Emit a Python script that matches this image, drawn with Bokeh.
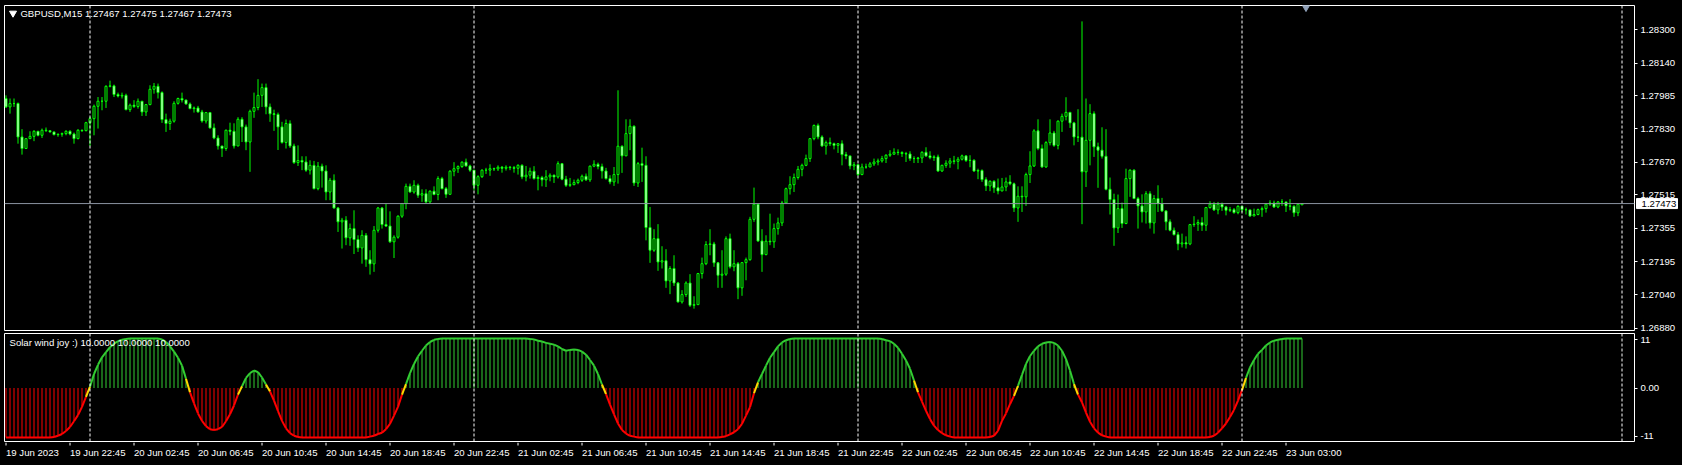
import numpy as np
from bokeh.plotting import figure
from bokeh.layouts import column
from bokeh.models import (Label, Span, Range1d, FixedTicker,
                          NumeralTickFormatter, GlobalInlineStyleSheet)
from bokeh.core.properties import value
from bokeh.embed import file_html
from bokeh.resources import INLINE

# ---------------- data (prices in points, 1 point = 0.00001) ----------------
symbol = "GBPUSD,M15"
indicator_name = "Solar wind joy :)"
indicator_params = ["10.0000", "10.0000", "10.0000"]

opens = [
    127973, 127933, 127949, 127949, 127790, 127735, 127782, 127793, 127817, 127798,
    127822, 127820, 127814, 127801, 127803, 127806, 127817, 127804, 127782, 127822,
    127820, 127858, 127877, 127936, 127960, 127960, 128031, 128033, 127992, 127985,
    127988, 127920, 127941, 127935, 127960, 127909, 127944, 128017, 128031, 128001,
    127873, 127854, 127865, 127950, 127973, 127966, 127947, 127925, 127928, 127909,
    127866, 127906, 127833, 127785, 127747, 127735, 127822, 127817, 127747, 127874,
    127838, 127766, 127912, 127930, 127988, 128025, 127933, 127900, 127897, 127838,
    127764, 127854, 127747, 127668, 127678, 127671, 127632, 127655, 127544, 127651,
    127628, 127528, 127584, 127452, 127386, 127394, 127310, 127354, 127302, 127262,
    127322, 127206, 127186, 127346, 127452, 127373, 127366, 127291, 127313, 127413,
    127473, 127555, 127528, 127560, 127513, 127520, 127481, 127532, 127516, 127592,
    127544, 127517, 127627, 127639, 127649, 127670, 127652, 127632, 127560, 127601,
    127632, 127632, 127639, 127638, 127646, 127641, 127646, 127644, 127641, 127655,
    127600, 127608, 127627, 127592, 127597, 127586, 127600, 127608, 127600, 127663,
    127589, 127560, 127563, 127573, 127584, 127603, 127586, 127651, 127660, 127649,
    127628, 127592, 127576, 127611, 127746, 127700, 127806, 127841, 127571, 127663,
    127655, 127359, 127251, 127306, 127195, 127201, 127105, 127164, 127095, 127005,
    127040, 127095, 126989, 126992, 127140, 127187, 127278, 127281, 127191, 127132,
    127137, 127306, 127172, 127187, 127072, 127192, 127206, 127398, 127470, 127295,
    127230, 127294, 127291, 127354, 127381, 127476, 127544, 127563, 127597, 127636,
    127655, 127687, 127782, 127845, 127790, 127747, 127763, 127758, 127750, 127758,
    127706, 127700, 127652, 127658, 127611, 127647, 127647, 127662, 127671, 127676,
    127687, 127703, 127708, 127717, 127716, 127711, 127709, 127687, 127687, 127690,
    127717, 127700, 127692, 127695, 127628, 127655, 127665, 127676, 127674, 127684,
    127700, 127678, 127679, 127628, 127630, 127587, 127557, 127579, 127548, 127533,
    127552, 127576, 127567, 127452, 127508, 127505, 127611, 127652, 127819, 127735,
    127647, 127763, 127809, 127750, 127865, 127888, 127907, 127857, 127790, 127789,
    127624, 127774, 127901, 127743, 127727, 127698, 127541, 127492, 127357, 127449,
    127378, 127592, 127632, 127497, 127462, 127433, 127520, 127381, 127497, 127473,
    127438, 127386, 127346, 127325, 127281, 127286, 127281, 127373, 127375, 127383,
    127370, 127454, 127470, 127443, 127470, 127457, 127441, 127444, 127430, 127460,
    127444, 127443, 127414, 127421, 127444, 127449, 127470, 127476, 127457, 127481,
    127481, 127462, 127460, 127429, 127467,
]
highs = [
    127988, 127973, 127973, 127954, 127827, 127782, 127817, 127822, 127817, 127830,
    127835, 127819, 127814, 127806, 127811, 127822, 127822, 127811, 127827, 127825,
    127862, 127885, 127944, 127980, 127980, 128036, 128058, 128039, 128001, 128001,
    127996, 127949, 127965, 127973, 127957, 127947, 128036, 128047, 128044, 128007,
    127901, 127877, 127960, 127977, 128001, 127966, 127954, 127935, 127938, 127919,
    127909, 127906, 127854, 127798, 127747, 127825, 127858, 127855, 127884, 127884,
    127849, 127920, 128001, 128065, 128044, 128044, 127949, 127920, 127906, 127862,
    127873, 127869, 127758, 127750, 127698, 127698, 127679, 127676, 127671, 127663,
    127655, 127595, 127612, 127457, 127405, 127413, 127378, 127441, 127322, 127346,
    127333, 127251, 127366, 127457, 127457, 127471, 127436, 127322, 127417, 127476,
    127568, 127568, 127584, 127568, 127541, 127541, 127536, 127555, 127603, 127600,
    127552, 127632, 127670, 127655, 127674, 127687, 127658, 127624, 127608, 127636,
    127643, 127660, 127644, 127655, 127652, 127655, 127652, 127652, 127660, 127660,
    127652, 127644, 127651, 127608, 127605, 127632, 127617, 127611, 127674, 127666,
    127605, 127595, 127587, 127592, 127611, 127616, 127654, 127679, 127668, 127663,
    127643, 127608, 127647, 128012, 127750, 127874, 127874, 127845, 127671, 127739,
    127698, 127457, 127351, 127375, 127270, 127256, 127175, 127227, 127100, 127061,
    127103, 127137, 127032, 127143, 127216, 127294, 127351, 127291, 127195, 127251,
    127317, 127330, 127251, 127195, 127195, 127216, 127410, 127549, 127473, 127351,
    127322, 127425, 127378, 127406, 127486, 127549, 127603, 127616, 127652, 127663,
    127706, 127785, 127849, 127854, 127798, 127773, 127787, 127763, 127761, 127774,
    127719, 127695, 127671, 127643, 127663, 127663, 127671, 127687, 127687, 127700,
    127708, 127727, 127736, 127731, 127722, 127719, 127722, 127698, 127695, 127722,
    127741, 127722, 127703, 127706, 127658, 127679, 127690, 127700, 127695, 127706,
    127703, 127703, 127684, 127639, 127636, 127598, 127584, 127584, 127592, 127595,
    127597, 127608, 127573, 127555, 127555, 127620, 127722, 127827, 127874, 127754,
    127770, 127874, 127819, 127869, 127901, 127979, 127909, 127862, 127922, 128340,
    127973, 127946, 127912, 127763, 127836, 127827, 127597, 127520, 127516, 127478,
    127639, 127636, 127636, 127505, 127517, 127532, 127532, 127513, 127560, 127500,
    127441, 127398, 127359, 127338, 127330, 127317, 127376, 127413, 127397, 127408,
    127457, 127484, 127481, 127481, 127478, 127462, 127457, 127452, 127465, 127452,
    127454, 127441, 127449, 127449, 127459, 127473, 127489, 127487, 127484, 127494,
    127473, 127494, 127465, 127473, 127475,
]
lows = [
    127928, 127901, 127933, 127758, 127706, 127735, 127782, 127770, 127793, 127785,
    127814, 127811, 127798, 127791, 127791, 127798, 127798, 127758, 127779, 127814,
    127817, 127747, 127798, 127830, 127917, 127928, 128026, 127980, 127978, 127973,
    127917, 127909, 127928, 127925, 127890, 127890, 127941, 127996, 127973, 127857,
    127814, 127823, 127858, 127944, 127954, 127944, 127922, 127906, 127906, 127858,
    127854, 127830, 127779, 127730, 127695, 127724, 127798, 127735, 127747, 127766,
    127727, 127624, 127881, 127917, 127933, 127898, 127862, 127819, 127728, 127758,
    127735, 127738, 127662, 127652, 127632, 127624, 127611, 127541, 127536, 127549,
    127489, 127489, 127449, 127338, 127259, 127275, 127272, 127233, 127243, 127187,
    127172, 127135, 127148, 127335, 127354, 127362, 127286, 127214, 127306, 127405,
    127446, 127525, 127520, 127500, 127481, 127473, 127473, 127513, 127489, 127541,
    127500, 127517, 127603, 127619, 127643, 127649, 127624, 127536, 127517, 127595,
    127614, 127605, 127628, 127628, 127620, 127630, 127632, 127620, 127611, 127589,
    127579, 127592, 127587, 127536, 127555, 127552, 127579, 127571, 127592, 127584,
    127552, 127552, 127560, 127565, 127576, 127581, 127576, 127646, 127636, 127592,
    127587, 127565, 127557, 127568, 127619, 127700, 127727, 127557, 127552, 127576,
    127298, 127191, 127243, 127153, 127164, 127072, 127042, 127081, 127002, 126997,
    127029, 126981, 126973, 126994, 127116, 127180, 127227, 127172, 127072, 127072,
    127129, 127164, 127151, 127018, 127034, 127108, 127201, 127386, 127291, 127148,
    127227, 127275, 127262, 127325, 127366, 127473, 127516, 127528, 127587, 127603,
    127651, 127671, 127774, 127779, 127744, 127706, 127747, 127731, 127714, 127655,
    127684, 127636, 127632, 127605, 127608, 127639, 127647, 127652, 127655, 127668,
    127666, 127695, 127706, 127703, 127695, 127671, 127676, 127666, 127666, 127666,
    127695, 127684, 127676, 127624, 127624, 127643, 127643, 127660, 127636, 127678,
    127671, 127646, 127624, 127589, 127576, 127533, 127532, 127524, 127517, 127532,
    127532, 127560, 127433, 127386, 127433, 127462, 127571, 127647, 127727, 127644,
    127644, 127750, 127743, 127731, 127814, 127869, 127833, 127750, 127766, 127375,
    127552, 127655, 127695, 127548, 127687, 127536, 127421, 127272, 127333, 127357,
    127375, 127505, 127494, 127354, 127383, 127378, 127354, 127330, 127433, 127433,
    127346, 127341, 127322, 127251, 127264, 127259, 127275, 127362, 127343, 127343,
    127343, 127449, 127438, 127422, 127438, 127417, 127433, 127425, 127422, 127433,
    127421, 127410, 127414, 127417, 127410, 127430, 127462, 127452, 127451, 127462,
    127433, 127441, 127410, 127413, 127467,
]
closes = [
    127933, 127949, 127949, 127790, 127735, 127782, 127793, 127817, 127798, 127822,
    127820, 127814, 127801, 127803, 127806, 127817, 127804, 127782, 127822, 127820,
    127858, 127877, 127936, 127960, 127960, 128031, 128033, 127992, 127985, 127988,
    127920, 127941, 127935, 127960, 127909, 127944, 128017, 128031, 128001, 127873,
    127854, 127865, 127950, 127973, 127966, 127947, 127925, 127928, 127909, 127866,
    127906, 127833, 127785, 127747, 127735, 127822, 127817, 127747, 127874, 127838,
    127766, 127912, 127930, 127988, 128025, 127933, 127900, 127897, 127838, 127764,
    127854, 127747, 127668, 127678, 127671, 127632, 127655, 127544, 127651, 127628,
    127528, 127584, 127452, 127386, 127394, 127310, 127354, 127302, 127262, 127322,
    127206, 127186, 127346, 127452, 127373, 127366, 127291, 127313, 127413, 127473,
    127555, 127528, 127560, 127513, 127520, 127481, 127532, 127516, 127592, 127544,
    127517, 127627, 127639, 127649, 127670, 127652, 127632, 127560, 127601, 127632,
    127632, 127639, 127638, 127646, 127641, 127646, 127644, 127641, 127655, 127600,
    127608, 127627, 127592, 127597, 127586, 127600, 127608, 127600, 127663, 127589,
    127560, 127563, 127573, 127584, 127603, 127586, 127651, 127660, 127649, 127628,
    127592, 127576, 127611, 127746, 127700, 127806, 127841, 127571, 127663, 127655,
    127359, 127251, 127306, 127195, 127201, 127105, 127164, 127095, 127005, 127040,
    127095, 126989, 126992, 127140, 127187, 127278, 127281, 127191, 127132, 127137,
    127306, 127172, 127187, 127072, 127192, 127206, 127398, 127470, 127295, 127230,
    127294, 127291, 127354, 127381, 127476, 127544, 127563, 127597, 127636, 127655,
    127687, 127782, 127845, 127790, 127747, 127763, 127758, 127750, 127758, 127706,
    127700, 127652, 127658, 127611, 127647, 127647, 127662, 127671, 127676, 127687,
    127703, 127708, 127717, 127716, 127711, 127709, 127687, 127687, 127690, 127717,
    127700, 127692, 127695, 127628, 127655, 127665, 127676, 127674, 127684, 127700,
    127678, 127679, 127628, 127630, 127587, 127557, 127579, 127548, 127533, 127552,
    127576, 127567, 127452, 127508, 127505, 127611, 127652, 127819, 127735, 127647,
    127763, 127809, 127750, 127865, 127888, 127907, 127857, 127790, 127789, 127624,
    127774, 127901, 127743, 127727, 127698, 127541, 127492, 127357, 127449, 127378,
    127592, 127632, 127497, 127462, 127433, 127520, 127381, 127497, 127473, 127438,
    127386, 127346, 127325, 127281, 127286, 127281, 127373, 127375, 127383, 127370,
    127454, 127470, 127443, 127470, 127457, 127441, 127444, 127430, 127460, 127444,
    127443, 127414, 127421, 127444, 127449, 127470, 127476, 127457, 127481, 127481,
    127462, 127460, 127429, 127470, 127473,
]
solar = [
    -11.3, -11.3, -11.3, -11.3, -11.3, -11.3, -11.3, -11.3, -11.3, -11.3, -11.3, -11.3,
    -11.2, -10.9, -10.5, -9.8, -8.9, -7.6, -6.2, -4.3, -2.0, 0.3, 3.2, 5.3, 7.0, 8.2,
    9.3, 10.1, 10.7, 11.0, 11.2,
    11.3, 11.3, 11.3, 11.3, 11.3, 11.3, 11.3, 11.3,
    11.1, 10.5, 9.5, 8.3, 6.9, 5.1, 2.1, -1.0, -3.5, -5.8, -7.5, -8.7, -9.4, -9.6,
    -9.4, -8.9, -7.6, -6.0, -4.0, -1.5, 0.4, 2.3, 3.4, 4.0, 3.6, 2.4, 0.8, -0.8,
    -2.9, -5.3, -7.5, -9.2, -10.3, -10.9, -11.2,
    -11.3, -11.3, -11.3, -11.3, -11.3, -11.3, -11.3, -11.3, -11.3, -11.3, -11.3,
    -11.3, -11.3, -11.3, -11.3, -11.3, -11.3,
    -11.1, -10.9, -10.5, -10.2, -9.4, -8.2, -6.3, -4.3, -1.5, 0.9, 3.4, 5.5, 7.2,
    8.5, 9.7, 10.5, 11.0, 11.2,
    11.3, 11.3, 11.3, 11.3, 11.3, 11.3, 11.3, 11.3, 11.3, 11.3, 11.3,
    11.3, 11.3, 11.3, 11.3, 11.3, 11.3, 11.3, 11.3, 11.3, 11.3, 11.3,
    11.2, 11.1, 10.8, 10.6, 10.3, 10.1, 9.9, 9.5, 8.9, 8.5, 8.7, 8.8, 8.7, 8.3,
    7.6, 6.4, 5.1, 3.2, 0.8, -1.4, -3.8, -6.0, -8.1, -9.6, -10.4, -10.9, -11.1,
    -11.3, -11.3, -11.3, -11.3, -11.3, -11.3, -11.3, -11.3, -11.3, -11.3, -11.3,
    -11.3, -11.3, -11.3, -11.3, -11.3, -11.3, -11.3, -11.3, -11.3, -11.3,
    -11.2, -11.0, -10.6, -10.1, -9.4, -8.2, -6.3, -4.4, -1.2, 1.3, 3.2, 5.1, 6.9,
    8.2, 9.5, 10.4, 10.9, 11.2,
    11.3, 11.3, 11.3, 11.3, 11.3, 11.3, 11.3, 11.3, 11.3, 11.3, 11.3,
    11.3, 11.3, 11.3, 11.3, 11.3, 11.3, 11.3, 11.3, 11.3, 11.3, 11.3,
    11.2, 10.9, 10.7, 10.1, 9.2, 7.8, 6.3, 4.4, 1.7, -1.0, -3.1, -5.2, -7.1, -8.6,
    -9.6, -10.3, -10.8, -11.1,
    -11.3, -11.3, -11.3, -11.3, -11.3, -11.3, -11.3, -11.3, -11.3,
    -11.2, -10.9, -9.8, -7.5, -5.8, -3.7, -1.8, 0.5, 3.0, 5.5, 7.3, 8.5, 9.5, 10.1,
    10.4, 10.5, 10.3, 9.7, 8.5, 6.6, 4.0, 0.9, -1.5, -3.3, -5.6, -7.7, -9.2, -10.2,
    -10.8, -11.1,
    -11.3, -11.3, -11.3, -11.3, -11.3, -11.3, -11.3, -11.3, -11.3, -11.3, -11.3,
    -11.3, -11.3, -11.3, -11.3, -11.3, -11.3, -11.3, -11.3, -11.3, -11.3, -11.3,
    -11.3, -11.3, -11.3,
    -11.2, -10.9, -10.2, -9.2, -8.1, -6.6, -5.0, -2.9, -0.5, 2.3, 4.7, 6.4, 7.8,
    8.7, 9.7, 10.4, 10.8, 11.0, 11.2,
    11.3, 11.3, 11.3, 11.3, 11.3,
]
time_labels = ["19 Jun 2023", "19 Jun 22:45", "20 Jun 02:45", "20 Jun 06:45", "20 Jun 10:45",
               "20 Jun 14:45", "20 Jun 18:45", "20 Jun 22:45", "21 Jun 02:45", "21 Jun 06:45",
               "21 Jun 10:45", "21 Jun 14:45", "21 Jun 18:45", "21 Jun 22:45", "22 Jun 02:45",
               "22 Jun 06:45", "22 Jun 10:45", "22 Jun 14:45", "22 Jun 18:45", "22 Jun 22:45",
               "23 Jun 03:00"]
time_label_bars = [0, 16, 32, 48, 64, 80, 96, 112, 128, 144, 160, 176, 192, 208, 224,
                   240, 256, 272, 288, 304, 320]
day_separator_bars = [21, 117, 213, 309, 404]
price_ticks = [1.28300, 1.28140, 1.27985, 1.27830, 1.27670, 1.27515, 1.27355, 1.27195,
               1.27040, 1.26880]
solar_ticks = [11, 0, -11]
solar_tick_labels = {11: "11", 0: "0.00", -11: "-11"}
bid = 127473
chart_shift_bar = 325

n = len(closes)
assert len(opens) == n and len(highs) == n and len(lows) == n and len(solar) == n

# ---------------- styling / geometry ----------------
FONT = "Liberation Sans"
FS = "9.6px"
CANDLE = "#00FF00"
UP = "#32CD32"
DN = "#FF0000"
YEL = "#FFD700"
W = 1680
LB = 4            # left border
RB = 46           # right border (price scale)
BAR_PX = 4.0
X0 = -0.375
X1 = X0 + (W - LB - RB) / BAR_PX
xr = Range1d(X0, X1)
P_TOP, P_BOT = 1.284156, 1.26869
S_TOP, S_BOT = 12.44, -12.44

o = np.array(opens) / 1e5
h = np.array(highs) / 1e5
l = np.array(lows) / 1e5
c = np.array(closes) / 1e5
idx = np.arange(n)
inc = c >= o
dec = ~inc


def style_axis(a):
    a.axis_line_color = None
    a.major_tick_line_color = "white"
    a.major_tick_in = 0
    a.major_tick_out = 3
    a.minor_tick_line_color = None
    a.major_label_standoff = 3
    a.major_label_text_color = "white"
    a.major_label_text_font = FONT
    a.major_label_text_font_size = FS


# ---------------- main price panel ----------------
p = figure(width=W, height=333, x_range=xr, y_range=Range1d(P_BOT, P_TOP),
           output_backend="svg", toolbar_location=None, x_axis_location=None,
           y_axis_location="right", background_fill_color="black",
           border_fill_color="black", min_border_left=LB, min_border_right=RB,
           min_border_top=5, min_border_bottom=3)
p.outline_line_color = "white"
p.xgrid.visible = False
p.ygrid.visible = False

ax = p.yaxis[0]
ax.ticker = FixedTicker(ticks=price_ticks)
ax.formatter = NumeralTickFormatter(format="0.00000")
style_axis(ax)

for xs in day_separator_bars:
    p.add_layout(Span(location=xs, dimension="height", line_color="white",
                      line_dash="3 2", line_width=1))
p.add_layout(Span(location=bid / 1e5, dimension="width", line_color="#8a93a0", line_width=1))

p.segment(x0=idx, y0=h, x1=idx, y1=l, line_color=CANDLE, line_width=1)
p.vbar(x=idx[inc], width=0.5, top=c[inc], bottom=o[inc], fill_color="black",
       line_color=CANDLE, line_width=1)
p.vbar(x=idx[dec], width=0.5, top=o[dec], bottom=c[dec], fill_color="white",
       line_color=CANDLE, line_width=1)

header = "%s  %.5f %.5f %.5f %.5f" % (symbol, o[-1], h[-1], l[-1], c[-1])
p.scatter(x=[1.75], y=[1.28379], marker="inverted_triangle", size=7,
          fill_color="white", line_color="white")
p.add_layout(Label(x=3.6, y=1.28379, text=header, text_color="white", text_font=FONT,
                   text_font_size=FS, text_baseline="middle", text_align="left"))
p.scatter(x=[chart_shift_bar], y=[1.28406], marker="inverted_triangle", size=7,
          fill_color="#8fa0b8", line_color="#8fa0b8")

# current price box on the price scale (drawn above the frame clip)
p.rect(x=[412.75], y=[bid / 1e5], width=41, height=10, width_units="screen",
       height_units="screen", fill_color="white", line_color="white", level="overlay")
p.text(x=[408.9], y=[bid / 1e5], text=["%.5f" % (bid / 1e5)], text_color="black",
       text_font=value(FONT), text_font_size=value(FS), text_baseline="middle",
       text_align="left", level="overlay")

# ---------------- indicator panel ----------------
p2 = figure(width=W, height=109, x_range=xr, y_range=Range1d(S_BOT, S_TOP),
            output_backend="svg", toolbar_location=None, x_axis_location=None,
            y_axis_location="right", background_fill_color="black",
            border_fill_color="black", min_border_left=LB, min_border_right=RB,
            min_border_top=0, min_border_bottom=0)
p2.outline_line_color = "white"
p2.xgrid.visible = False
p2.ygrid.visible = False

ay = p2.yaxis[0]
ay.ticker = FixedTicker(ticks=solar_ticks)
ay.major_label_overrides = solar_tick_labels
style_axis(ay)

for xs in day_separator_bars:
    p2.add_layout(Span(location=xs, dimension="height", line_color="white",
                       line_dash="3 2", line_width=1))

sv = np.array(solar)
hist_col = [UP if v >= 0 else DN for v in solar]
p2.segment(x0=idx, y0=np.zeros(n), x1=idx, y1=sv, line_color=hist_col, line_width=1)

seg_col = []
for a, b in zip(solar[:-1], solar[1:]):
    if (a < 0) != (b < 0):
        seg_col.append(YEL)
    else:
        seg_col.append(UP if a >= 0 else DN)
p2.segment(x0=idx[:-1], y0=sv[:-1], x1=idx[1:], y1=sv[1:], line_color=seg_col,
           line_width=2)

p2.add_layout(Label(x=0.875, y=10.46,
                    text="%s %s" % (indicator_name, " ".join(indicator_params)),
                    text_color="white", text_font=FONT, text_font_size=FS,
                    text_baseline="middle", text_align="left"))

# ---------------- time scale strip ----------------
p3 = figure(width=W, height=22, x_range=xr, y_range=Range1d(0, 22),
            output_backend="svg", toolbar_location=None, x_axis_location=None,
            y_axis_location=None, background_fill_color="black",
            border_fill_color="black", min_border_left=LB, min_border_right=RB,
            min_border_top=0, min_border_bottom=0)
p3.outline_line_color = None
p3.xgrid.visible = False
p3.ygrid.visible = False
tb = np.array(time_label_bars, dtype=float)
p3.segment(x0=tb, y0=np.full(len(tb), 22.0), x1=tb, y1=np.full(len(tb), 19.0),
           line_color="white", line_width=1)
p3.text(x=tb, y=np.full(len(tb), 12.3), text=time_labels, text_color="white",
        text_font=value(FONT), text_font_size=value(FS), text_align="left",
        text_baseline="middle", x_offset=0)

layout = column(p, p2, p3,
                stylesheets=[GlobalInlineStyleSheet(css="body { background-color: #000000; }")])

open("out.html", "w").write(file_html(layout, INLINE))
